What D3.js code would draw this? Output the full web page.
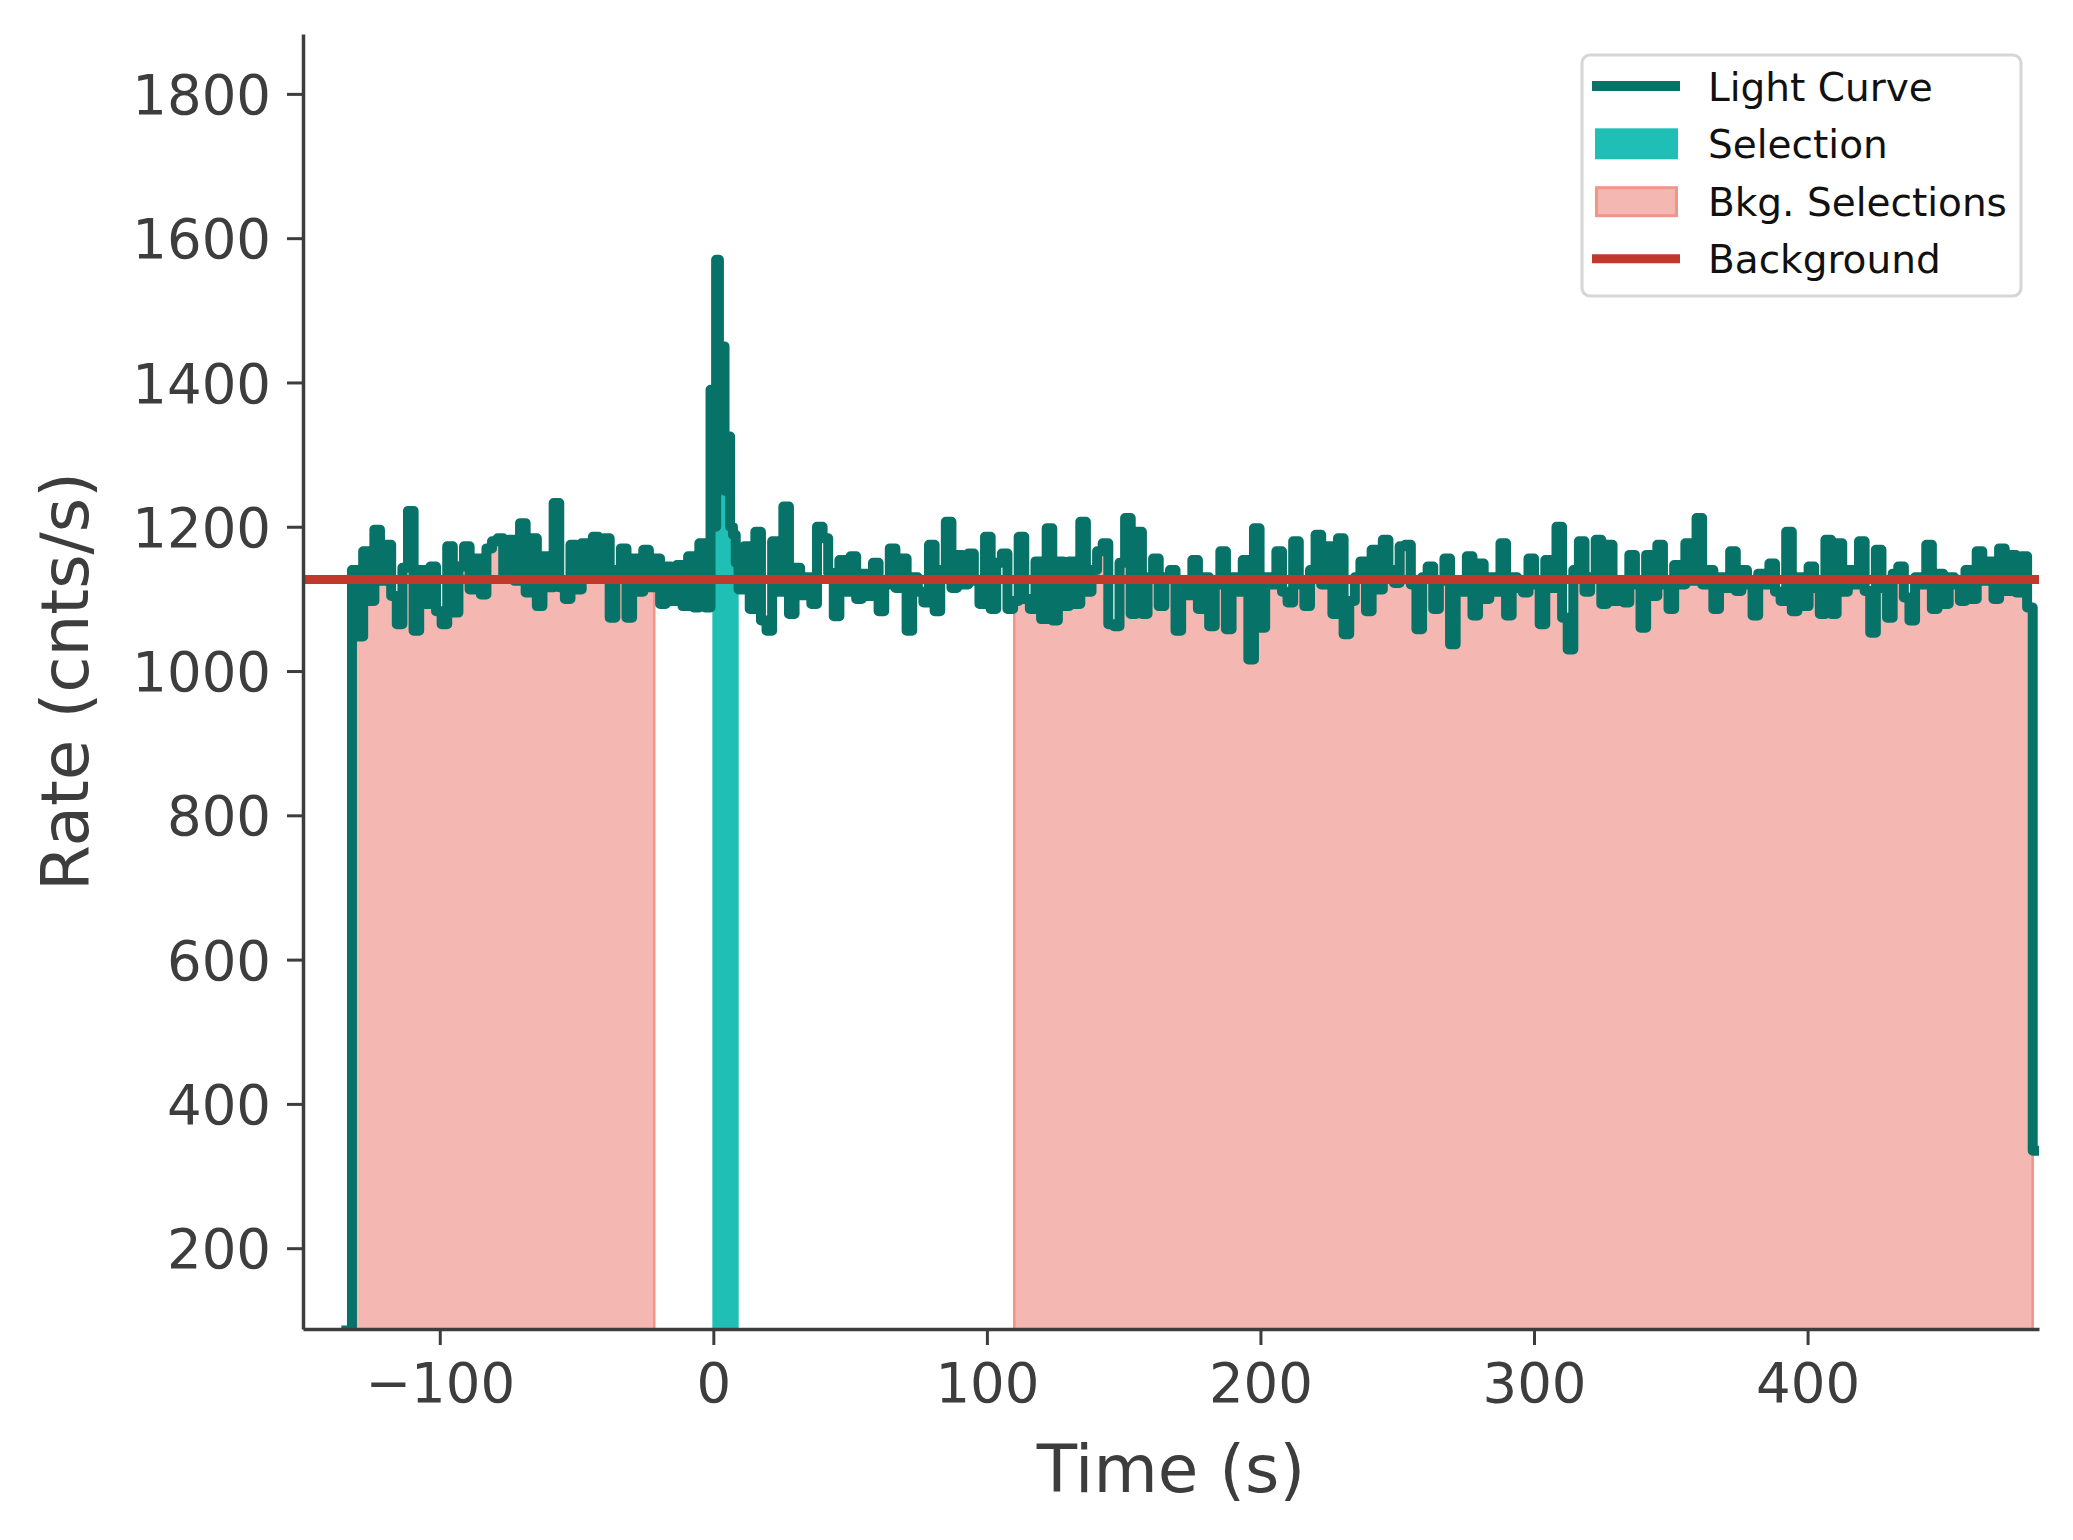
<!DOCTYPE html>
<html><head><meta charset="utf-8">
<script src="https://cdn.jsdelivr.net/npm/d3@7"></script>
<style>
html,body{margin:0;padding:0;background:#fff;}
svg{display:block;}
</style></head>
<body>
<script>
// ---------------- data ----------------
const xTicks = [-100, 0, 100, 200, 300, 400];
const yTicks = [200, 400, 600, 800, 1000, 1200, 1400, 1600, 1800];
const binStart = -132.1;      // start of the first full bin (s)
const binWidth = 2.048;       // bin width outside the burst (s)
const burstBinWidth = 1.024;  // finer bins during the burst (s)
const leadStart = -134.15;    // partial bin before the first full bin
const leadRate = 86;
// rates before the burst (2.048 s bins from binStart)
const preRates = [
  1140,1048,1166,1097,1196,1125,1175,1104,1065,1143,
  1222,1056,1140,1093,1145,1083,1065,1173,1081,1145,
  1173,1113,1156,1106,1170,1180,1184,1129,1182,1125,
  1205,1109,1184,1090,1159,1116,1233,1116,1100,1175,
  1113,1177,1140,1186,1130,1184,1074,1140,1170,1074,
  1156,1110,1168,1116,1156,1093,1145,1097,1147,1090,
  1159,1088,1177,1088
];
// rates during the burst (1.024 s bins)
const burstRates = [1390, 1200, 1570, 1330, 1450, 1250, 1325, 1200, 1189, 1150];
// rates after the burst (2.048 s bins)
const postRates = [
  1113,
  1173,1086,1193,1070,1056,1180,1110,1228,1079,1143,
  1105,1130,1093,1200,1184,1136,1076,1154,1110,1159,
  1100,1135,1104,1150,1083,1120,1170,1115,1156,1056,
  1130,1110,1095,1175,1083,1140,1207,1115,1161,1120,
  1163,1125,1093,1186,1086,1150,1163,1086,1097,1186,
  1100,1086,1152,1072,1198,1070,1152,1090,1152,1093,
  1207,1110,1140,1166,1177,1065,1062,1150,1212,1079,
  1193,1079,1130,1156,1090,1130,1140,1056,1125,1105,
  1154,1086,1130,1062,1120,1166,1058,1130,1110,1154,
  1016,1198,1060,1130,1120,1166,1110,1095,1180,1120,
  1090,1140,1189,1120,1173,1079,1184,1051,1097,1130,
  1152,1083,1168,1113,1182,1140,1122,1173,1175,1120,
  1058,1130,1145,1086,1125,1156,1037,1120,1110,1159,
  1077,1149,1100,1130,1110,1177,1077,1130,1115,1109,
  1156,1120,1065,1154,1115,1200,1074,1030,1140,1180,
  1110,1130,1182,1093,1175,1097,1125,1095,1161,1120,
  1060,1161,1104,1175,1120,1086,1147,1120,1177,1125,
  1212,1120,1140,1086,1130,1115,1166,1111,1140,1120,
  1077,1135,1120,1149,1110,1097,1193,1083,1130,1090,
  1145,1115,1079,1182,1079,1177,1110,1140,1120,1180,
  1111,1053,1168,1115,1074,1135,1145,1102,1070,1130,
  1120,1175,1086,1135,1093,1130,1120,1097,1140,1100,
  1166,1125,1152,1100,1170,1111,1161,1109,1159,1088
];
const tailRate = 335;          // last, partial bin
const backgroundRate = 1127;
const selection = [0, 8.9];
const bkgSelections = [[-132.1, -21.6], [110.0, 482.3]];
const legendLabels = ["Light Curve", "Selection", "Bkg. Selections", "Background"];
const xLabel = "Time (s)";
const yLabel = "Rate (cnts/s)";

// ---------------- colours ----------------
const C = {
  lc: "#077368", sel: "#20bfb5", bkgFill: "#f5b7b1", bkgEdge: "#f1948a",
  bg: "#c0392b", axis: "#3d3d3d", text: "#3d3d3d"
};

// ---------------- layout ----------------
const W = 2073, H = 1540;
const L = 303, R = 2039, T = 34, B = 1329;

const x = d3.scaleLinear().domain([-150, 484.6]).range([L, R]);
const y = d3.scaleLinear().domain([88, 1883]).range([B, T]);

// build the step points
const pts = [{t: leadStart, v: leadRate}];
let tc = binStart;
preRates.forEach(v => { pts.push({t: tc, v}); tc += binWidth; });
burstRates.forEach(v => { pts.push({t: tc, v}); tc += burstBinWidth; });
postRates.forEach(v => { pts.push({t: tc, v}); tc += binWidth; });
pts.push({t: tc, v: tailRate});
pts.push({t: tc + binWidth, v: tailRate});

function segment(a, b) {
  const out = [];
  for (let i = 0; i < pts.length - 1; i++) {
    const t0 = pts[i].t, t1 = pts[i + 1].t;
    if (t1 <= a || t0 >= b) continue;
    out.push({t: Math.max(t0, a), v: pts[i].v});
  }
  out.push({t: b, v: out[out.length - 1].v});
  return out;
}

const svg = d3.select("body").append("svg").attr("width", W).attr("height", H)
  .style("font-family", "'DejaVu Sans', sans-serif");

svg.append("defs").append("clipPath").attr("id", "plotclip")
  .append("rect").attr("x", L).attr("y", T).attr("width", R - L).attr("height", B - T);

const plot = svg.append("g").attr("clip-path", "url(#plotclip)");

const area = d3.area().curve(d3.curveStepAfter)
  .x(d => x(d.t)).y0(y(0)).y1(d => y(d.v));

// background selections
bkgSelections.forEach(([a, b]) => {
  plot.append("path").datum(segment(a, b)).attr("d", area)
    .attr("fill", C.bkgFill).attr("stroke", C.bkgEdge).attr("stroke-width", 2.5);
});
// source selection
plot.append("path").datum(segment(selection[0], selection[1])).attr("d", area)
  .attr("fill", C.sel).attr("stroke", C.sel).attr("stroke-width", 2);

// light curve
const line = d3.line().curve(d3.curveStepAfter).x(d => x(d.t)).y(d => y(d.v));
plot.append("path").datum(pts).attr("d", line)
  .attr("fill", "none").attr("stroke", C.lc).attr("stroke-width", 10)
  .attr("stroke-linejoin", "round").attr("stroke-linecap", "square");

// background level
plot.append("line").attr("x1", L).attr("x2", R)
  .attr("y1", y(backgroundRate)).attr("y2", y(backgroundRate))
  .attr("stroke", C.bg).attr("stroke-width", 9);

// axes
const fmt = d3.format("d");
const xAxis = d3.axisBottom(x).tickValues(xTicks).tickFormat(fmt)
  .tickSize(16).tickPadding(18).tickSizeOuter(0);
const gx = svg.append("g").attr("transform", `translate(0,${B})`).call(xAxis);
const yAxis = d3.axisLeft(y).tickValues(yTicks).tickFormat(fmt)
  .tickSize(16).tickPadding(16).tickSizeOuter(0);
const gy = svg.append("g").attr("transform", `translate(${L},0)`).call(yAxis);

[gx, gy].forEach(g => {
  g.select(".domain").attr("stroke", C.axis).attr("stroke-width", 3.5);
  g.selectAll(".tick line").attr("stroke", C.axis).attr("stroke-width", 3);
  g.selectAll(".tick text").attr("fill", C.text).style("font-size", "54.5px")
    .style("font-family", "'DejaVu Sans', sans-serif");
});
gx.selectAll(".tick text").attr("dy", "0.71em");
gy.selectAll(".tick text").attr("dy", "0.36em");

// axis labels
svg.append("text").attr("x", (L + R) / 2).attr("y", 1492).attr("text-anchor", "middle")
  .attr("fill", C.text).style("font-size", "66px").text(xLabel);
svg.append("text").attr("transform", `translate(88,${(T + B) / 2}) rotate(-90)`)
  .attr("text-anchor", "middle").attr("fill", C.text).style("font-size", "66px").text(yLabel);

// legend
const lg = svg.append("g");
lg.append("rect").attr("x", 1582).attr("y", 55).attr("width", 439).attr("height", 241)
  .attr("rx", 8).attr("fill", "#fff").attr("fill-opacity", 0.9)
  .attr("stroke", "#d6d6d6").attr("stroke-width", 3);
const rowY = [86, 143.8, 201.7, 258.7];
lg.append("line").attr("x1", 1592).attr("x2", 1680).attr("y1", rowY[0]).attr("y2", rowY[0])
  .attr("stroke", C.lc).attr("stroke-width", 10);
lg.append("rect").attr("x", 1595).attr("y", rowY[1] - 15.5).attr("width", 83).attr("height", 31)
  .attr("fill", C.sel);
lg.append("rect").attr("x", 1596.5).attr("y", rowY[2] - 14).attr("width", 80).attr("height", 28)
  .attr("fill", C.bkgFill).attr("stroke", C.bkgEdge).attr("stroke-width", 3);
lg.append("line").attr("x1", 1592).attr("x2", 1680).attr("y1", rowY[3]).attr("y2", rowY[3])
  .attr("stroke", C.bg).attr("stroke-width", 9);
legendLabels.forEach((s, i) => {
  lg.append("text").attr("x", 1708).attr("y", rowY[i] + 14.5).attr("fill", "#111")
    .style("font-size", "39px").text(s);
});
</script>
</body></html>
